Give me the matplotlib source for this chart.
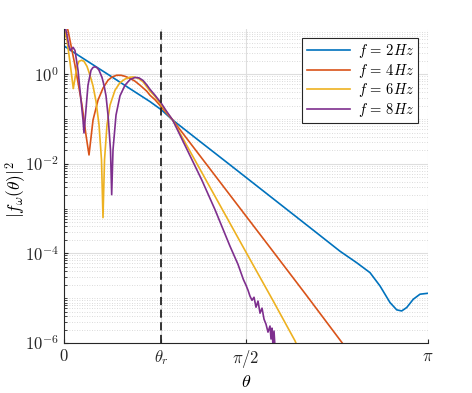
import numpy as np
import matplotlib

matplotlib.use("Agg")
import matplotlib.pyplot as plt
from matplotlib.ticker import FixedLocator, NullFormatter

plt.rcParams["mathtext.fontset"] = "cm"
plt.rcParams["font.family"] = "serif"

# angles given as fractions of pi, values of |f(theta)|^2
theta_2 = [0, 0.0247, 0.0714, 0.1264, 0.1813, 0.2363, 0.2665, 0.2986, 0.3736, 0.4560,
           0.5385, 0.6209, 0.6896, 0.7582, 0.8041, 0.8407, 0.8681,
           0.8956, 0.9140, 0.9277, 0.9415, 0.9596, 0.9780, 1.0]
f_2 = [4.3, 3.16, 1.80, 0.93, 0.476, 0.245, 0.163, 0.095, 0.0316, 9.5e-3,
       2.83e-3, 8.45e-4, 3.08e-4, 1.12e-4, 6.2e-5, 3.72e-5, 1.88e-5,
       8.0e-6, 5.5e-6, 5.2e-6, 6.2e-6, 9.5e-6, 1.23e-5, 1.29e-5]

theta_4 = [0, 0.011, 0.0302, 0.0495, 0.0604, 0.0687, 0.0797, 0.0934, 0.1071, 0.1209,
           0.1319, 0.1448, 0.1566, 0.1676, 0.1813, 0.1951, 0.2088, 0.2272, 0.2363,
           0.25, 0.2665, 0.2802, 0.2986, 0.3736, 0.4698, 0.5659,
           0.6668, 0.7629, 0.7720]
f_4 = [17.5, 9.5, 1.58, 0.204, 0.044, 0.0158, 0.095, 0.264, 0.49, 0.735,
       0.87, 0.95, 0.95, 0.90, 0.81, 0.70, 0.57, 0.42, 0.34,
       0.27, 0.19, 0.14, 0.095, 0.0151, 1.43e-3, 1.36e-4,
       1.14e-5, 1.04e-6, 8.2e-7]

theta_6 = [0, 0.0082, 0.0165, 0.022, 0.0255, 0.0302, 0.0357, 0.0412, 0.0486, 0.0549,
           0.0632, 0.0714, 0.0797, 0.0879, 0.0962, 0.103, 0.1071, 0.1113, 0.1181,
           0.1264, 0.1401, 0.1538, 0.1676, 0.1813, 0.1904, 0.2033, 0.217, 0.2363,
           0.25, 0.2665, 0.2802, 0.2986, 0.3599, 0.4239, 0.5019,
           0.575, 0.6346, 0.6401]
f_6 = [10.5, 5.7, 1.85, 0.815, 0.48, 0.815, 1.5, 1.95, 2.05, 1.95,
       1.5, 0.95, 0.55, 0.25, 0.074, 0.0123, 6.3e-4, 0.0123, 0.074,
       0.205, 0.44, 0.65, 0.78, 0.86, 0.87, 0.82, 0.68, 0.42,
       0.32, 0.21, 0.15, 0.095, 0.012, 1.39e-3, 1.0e-4,
       8.6e-6, 1.12e-6, 8.7e-7]

theta_8 = [0, 0.0082, 0.0137, 0.0179, 0.0247, 0.0302, 0.0385, 0.0467, 0.0522, 0.0549,
           0.0591, 0.0659, 0.0742, 0.0797, 0.0852, 0.0907, 0.0962, 0.1044, 0.1099,
           0.1154, 0.1209, 0.1277, 0.131, 0.1346, 0.1429, 0.1538, 0.1676, 0.1813,
           0.1951, 0.206, 0.217, 0.228, 0.2363, 0.25, 0.2665, 0.2802,
           0.2986, 0.3462, 0.3783, 0.4148, 0.456, 0.478, 0.4926, 0.5, 0.5055, 0.511,
           0.5165, 0.522, 0.5275, 0.533, 0.5385, 0.544, 0.5495, 0.5549, 0.5604,
           0.5659, 0.5687, 0.5714, 0.5742, 0.5769, 0.5797]
f_8 = [15.8, 7.4, 4.2, 3.4, 4.0, 3.4, 1.23, 0.264, 0.095, 0.0489,
       0.123, 0.57, 1.23, 1.42, 1.47, 1.40, 1.23, 0.85, 0.57,
       0.33, 0.123, 0.0205, 2.05e-3, 0.0205, 0.123, 0.33, 0.57, 0.76,
       0.85, 0.83, 0.73, 0.57, 0.46, 0.34, 0.23, 0.155,
       0.095, 0.0152, 4.4e-3, 9.5e-4, 1.45e-4, 5.7e-5, 2.64e-5, 1.95e-5, 1.51e-5, 1.11e-5,
       9.0e-6, 1.05e-5, 6.3e-6, 8.6e-6, 4.64e-6, 6.0e-6, 3.4e-6, 2.64e-6, 1.75e-6,
       2.39e-6, 1.23e-6, 2.15e-6, 8.5e-7, 1.85e-6, 8e-7]

theta_r = 0.837
labels = [r"$f\,=\,2Hz$", r"$f\,=\,4Hz$", r"$f\,=\,6Hz$", r"$f\,=\,8Hz$"]
colors = ["#0072BD", "#D95319", "#EDB120", "#7E2F8E"]

fig = plt.figure(figsize=(4.72, 3.93), dpi=100)
ax = fig.add_axes([0.1356, 0.1272, 0.7712, 0.7978])

series = [(theta_2, f_2), (theta_4, f_4), (theta_6, f_6), (theta_8, f_8)]
for (th, f), lab, c in zip(series, labels, colors):
    ax.semilogy(np.array(th) * np.pi, f, color=c, lw=1.2, label=lab)

ax.axvline(theta_r, color="#262626", ls=(0, (4.5, 2.5)), lw=1.3)

ax.set_xlim(0, np.pi)
ax.set_ylim(1e-6, 10)
ax.set_xticks([0, theta_r, np.pi / 2, np.pi])
ax.set_xticklabels(["$0$", r"$\theta_r$", r"$\pi/2$", r"$\pi$"], fontsize=12)
ax.set_yticks([1e-6, 1e-4, 1e-2, 1e0])
ax.set_yticklabels(["$10^{-6}$", "$10^{-4}$", "$10^{-2}$", "$10^{0}$"], fontsize=12)
minor = [m * 10.0 ** e for e in range(-6, 1) for m in range(1, 10)]
minor = [v for v in minor if v not in (1e-6, 1e-4, 1e-2, 1e0)]
ax.yaxis.set_minor_locator(FixedLocator(minor))
ax.yaxis.set_minor_formatter(NullFormatter())

ax.grid(True, which="major", color="#dedede", lw=0.8)
ax.grid(True, which="minor", axis="y", color="#cfcfcf", lw=0.6, ls=(0, (1, 2)))
ax.set_axisbelow(True)
ax.tick_params(direction="in", which="both", colors="#262626", length=3)
ax.tick_params(which="minor", length=2)
for s in ["top", "right"]:
    ax.spines[s].set_visible(False)
for s in ["left", "bottom"]:
    ax.spines[s].set_color("#262626")

ax.set_xlabel(r"$\theta$", fontsize=13, labelpad=2)
ax.set_ylabel(r"$|f_\omega(\theta)|^2$", fontsize=12.5)
ax.yaxis.set_label_coords(-0.098, 0.49)

leg = ax.legend(loc="upper right", fontsize=10.5, fancybox=False, framealpha=1,
                edgecolor="#262626", handlelength=3.0, borderpad=0.3,
                labelspacing=0.1, handletextpad=0.5, borderaxespad=0,
                bbox_to_anchor=(0.973, 0.973))
leg.get_frame().set_linewidth(0.8)

plt.savefig("out.png", dpi=100)
